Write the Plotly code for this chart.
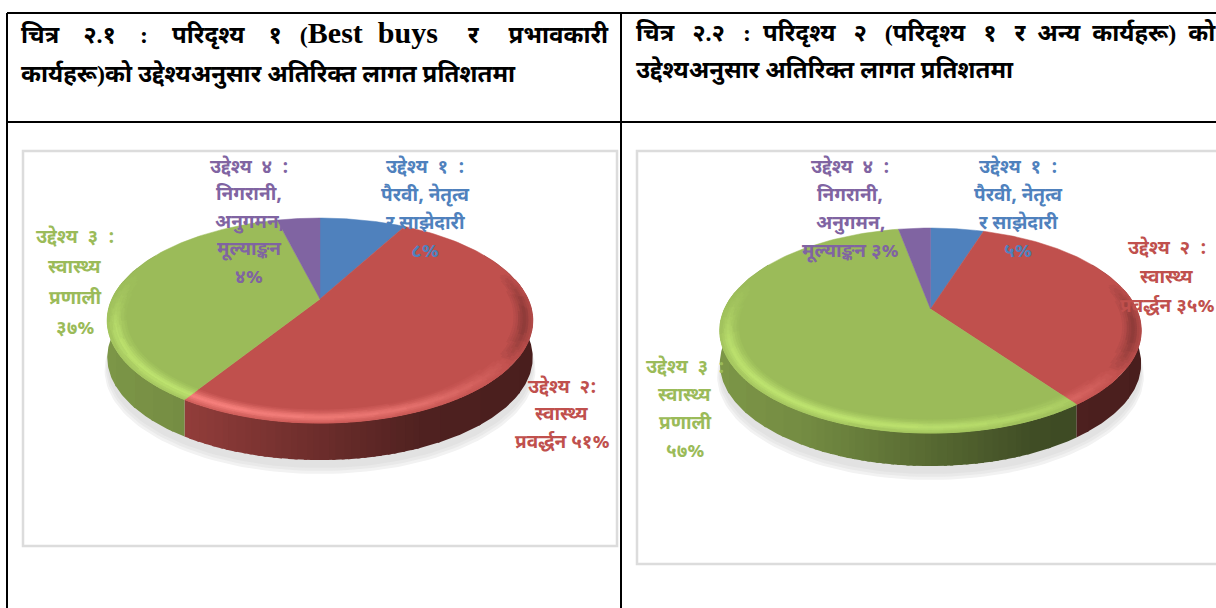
import numpy as np
import plotly.graph_objects as go

# ---- data -------------------------------------------------------------
slice_names = ["उद्देश्य १", "उद्देश्य २", "उद्देश्य ३", "उद्देश्य ४"]
values_left = [8, 51, 37, 4]
values_right = [5, 35, 57, 3]
slice_colors = ["#4f81bd", "#c0504d", "#9bbb59", "#8064a2"]
highlight_colors = ["#8fb8ea", "#f57f7b", "#bde26f", "#a98cc8"]

N = "\u00a0"
title_left_1 = ("चित्र" + N*4 + "२.१" + N*4 + ":" + N*4 + "परिदृश्य" + N*4 + "१" + N*3 +
                '(<span style="font-size:30px">Best' + N*2 + 'buys</span>' + N*5 + "र" + N*5 + "प्रभावकारी")
title_left_2 = "कार्यहरू)को उद्देश्यअनुसार अतिरिक्त लागत प्रतिशतमा"
title_right_1 = ("चित्र" + N*3 + "२.२" + N*3 + ":" + N*2 + "परिदृश्य" + N*3 + "२" + N*3 + "(परिदृश्य" + N*3 +
                 "१" + N*3 + "र" + N*2 + "अन्य" + N*2 + "कार्यहरू)" + N*2 + "को")
title_right_2 = "उद्देश्यअनुसार अतिरिक्त लागत प्रतिशतमा"

labels_left = [["उद्देश्य" + N*2 + "१" + N*2 + ":", "पैरवी, नेतृत्व", "र साझेदारी", "८%"],
               ["उद्देश्य" + N*2 + "२:", "स्वास्थ्य", "प्रवर्द्धन ५१%"],
               ["उद्देश्य" + N*2 + "३" + N*2 + ":", "स्वास्थ्य", "प्रणाली", "३७%"],
               ["उद्देश्य" + N*2 + "४" + N*2 + ":", "निगरानी,", "अनुगमन,", "मूल्याङ्कन", "४%"]]
labels_right = [["उद्देश्य" + N*2 + "१" + N*2 + ":", "पैरवी, नेतृत्व", "र साझेदारी", "५%"],
                ["उद्देश्य" + N*2 + "२" + N*2 + ":", "स्वास्थ्य", "प्रवर्द्धन ३५%"],
                ["उद्देश्य" + N*2 + "३" + N*2 + ":", "स्वास्थ्य", "प्रणाली", "५७%"],
                ["उद्देश्य" + N*2 + "४" + N*2 + ":", "निगरानी,", "अनुगमन,", "मूल्याङ्कन ३%"]]

# label centre x, first line y, line spacing in page pixels
label_pos_left = [(425, 168, 28), (562, 388, 27.5), (75, 238, 30.5), (249, 168, 27.5)]
label_pos_right = [(1018, 168, 28), (1167, 249, 29), (685, 368, 28), (850, 168, 28)]

FONT = "Noto Sans Devanagari, Noto Sans, sans-serif"
SERIF = "Liberation Serif, Noto Sans Devanagari, Noto Sans, serif"
K = 0.21
SHADE_X = [0, .2, .75, 1]
SHADE_F = [.8, .75, .41, .38]


def hex_rgb(c):
    return np.array([int(c[i:i + 2], 16) for i in (1, 3, 5)], float)


def to_hex(a):
    a = np.clip(np.round(a), 0, 255).astype(int)
    return "#%02x%02x%02x" % tuple(a)


def project(theta, r, cx, cy, sx, sy):
    """Clockwise angle from 12 o'clock onto a tilted disc in perspective."""
    u, v = r * np.sin(theta), r * np.cos(theta)
    w = 1 + K * v
    return cx + sx * u / w, cy - sy * v / w


def add_group(fig, groups, width=0.8):
    for col, (xs, ys) in groups.items():
        fig.add_trace(go.Scatter(x=xs, y=ys, mode="lines", fill="toself", fillcolor=col,
                                 line=dict(color=col, width=width), hoverinfo="skip", showlegend=False))


def add_pie(fig, values, cx, cy, sx, sy, depth):
    total = sum(values)
    edges = np.cumsum([0] + list(values)) / total * 2 * np.pi
    # shadow
    for grow, off, col in [(1.012, 12, "#f2f2f2"), (1.006, 10, "#e9e9e9"), (1.0, 8, "#e2e2e2")]:
        t = np.linspace(0, 2 * np.pi, 200)
        x, y = project(t, grow, cx, cy, sx, sy)
        fig.add_trace(go.Scatter(x=x, y=y + depth + off, mode="lines", fill="toself", fillcolor=col,
                                 line=dict(color=col, width=0), hoverinfo="skip", showlegend=False))
    left = cx - sx * 1.0228
    width = 2 * sx * 1.0228
    # side wall: runs of one shade, each overlapping the next so no seams show
    for i, c in enumerate(slice_colors):
        base = hex_rgb(c)
        th = np.linspace(edges[i], edges[i + 1], max(4, int((edges[i + 1] - edges[i]) / 0.012)) + 1)
        keep = np.cos(th) < 0.5
        th = th[keep]
        if len(th) < 2:
            continue
        xm, _ = project(th, 1, cx, cy, sx, sy)
        shade = np.round(np.interp((xm - left) / width, SHADE_X, SHADE_F) * 90) / 90
        start = 0
        for j in range(1, len(th) + 1):
            if j == len(th) or shade[j] != shade[start]:
                seg = th[start:min(j + 2, len(th))]
                x, y = project(seg, 1, cx, cy, sx, sy)
                col = to_hex(base * shade[start])
                fig.add_trace(go.Scatter(x=np.r_[x, x[::-1], x[0]], y=np.r_[y, y[::-1] + depth, y[0]],
                                         mode="lines", fill="toself", fillcolor=col,
                                         line=dict(color=col, width=0), hoverinfo="skip", showlegend=False))
                start = j
    # top surface
    for i, c in enumerate(slice_colors):
        t = np.linspace(edges[i], edges[i + 1], 120)
        x, y = project(t, 1, cx, cy, sx, sy)
        fig.add_trace(go.Scatter(x=np.r_[cx, x, cx], y=np.r_[cy, y, cy], mode="lines", fill="toself",
                                 fillcolor=c, line=dict(color=c, width=0.5),
                                 hoverinfo="skip", showlegend=False))
    # bevel along the front of the rim
    rings = np.linspace(0.915, 1.0, 9)
    profile = [0, .15, .35, .6, .85, 1, .8, .55, .35]
    groups = {}
    for i, c in enumerate(slice_colors):
        base, hi = hex_rgb(c), hex_rgb(highlight_colors[i])
        dark = base * 0.42
        n = max(2, int((edges[i + 1] - edges[i]) / 0.02))
        th = np.linspace(edges[i], edges[i + 1], n + 1)
        for a, b in zip(th[:-1], th[1:]):
            m = (a + b) / 2
            L = np.cos(m - np.radians(215))
            front = np.clip((0.3 - np.cos(m)) / 0.6, 0, 1)
            for k in range(len(rings) - 1):
                p = profile[k + 1] * abs(L) ** 0.7 * front
                if p < 0.04:
                    continue
                target = hi if L > 0 else dark
                col = to_hex(base + (target - base) * round(p * 14) / 14)
                x1, y1 = project(a, rings[k], cx, cy, sx, sy)
                x2, y2 = project(b, rings[k], cx, cy, sx, sy)
                x3, y3 = project(b, rings[k + 1], cx, cy, sx, sy)
                x4, y4 = project(a, rings[k + 1], cx, cy, sx, sy)
                g = groups.setdefault(col, ([], []))
                g[0].extend([x1, x2, x3, x4, x1, None])
                g[1].extend([y1, y2, y3, y4, y1, None])
    add_group(fig, groups)


fig = go.Figure()
add_pie(fig, values_left, 320, 299, 208, 98, 37)
add_pie(fig, values_right, 930.5, 309, 206, 98, 33)

shapes = []
for x0, y0, x1, y1 in [(7, 13, 1216, 13), (7, 122, 1216, 122), (7, 13, 7, 608), (621, 13, 621, 608)]:
    shapes.append(dict(type="line", x0=x0, y0=y0, x1=x1, y1=y1, layer="above",
                       line=dict(color="#000000", width=2)))
for x0, y0, x1, y1 in [(23, 151, 617, 546), (637, 151, 1230, 564)]:
    shapes.append(dict(type="rect", x0=x0, y0=y0, x1=x1, y1=y1, layer="below",
                       line=dict(color="#dcdcdc", width=2.5)))

ann = []
for (txt, x, y) in [(title_left_1, 19, 33), (title_left_2, 19, 74), (title_right_1, 634, 33), (title_right_2, 634, 70)]:
    ann.append(dict(x=x, y=y, text="<b>" + txt + "</b>", showarrow=False, xanchor="left", yanchor="middle",
                    font=dict(family=SERIF, size=24, color="#000000")))
for labels, pos in [(labels_left, label_pos_left), (labels_right, label_pos_right)]:
    for lines, (x, y, dy), c in zip(labels, pos, slice_colors):
        for j, line in enumerate(lines):
            ann.append(dict(x=x, y=y + j * dy, text="<b>" + line + "</b>", showarrow=False, xanchor="center",
                            yanchor="middle", align="center", font=dict(family=FONT, size=19, color=c)))

fig.update_layout(width=1216, height=608, margin=dict(l=0, r=0, t=0, b=0),
                  paper_bgcolor="white", plot_bgcolor="white", showlegend=False,
                  xaxis=dict(range=[0, 1216], visible=False, fixedrange=True),
                  yaxis=dict(range=[608, 0], visible=False, fixedrange=True),
                  shapes=shapes, annotations=ann)
fig.write_html("out.html", config={"displayModeBar": False},
               post_script="document.body.style.margin='0';document.body.style.overflow='hidden';")
